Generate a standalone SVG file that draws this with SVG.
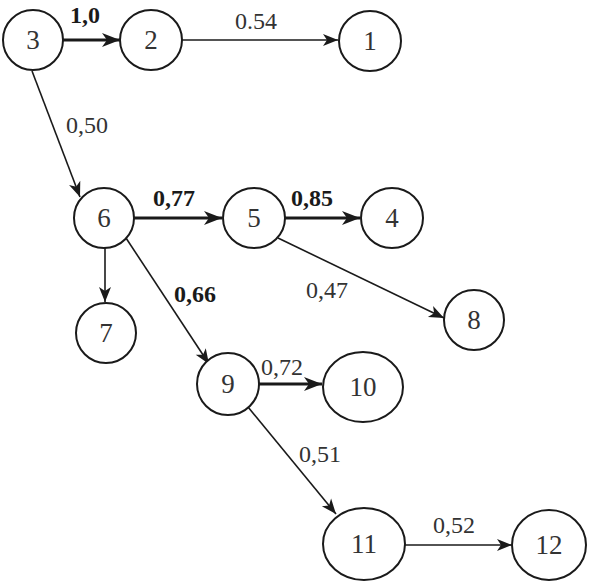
<svg xmlns="http://www.w3.org/2000/svg" width="591" height="582" viewBox="0 0 591 582">
<style>
.node ellipse{fill:#fff;stroke:#1a1a1a;stroke-width:2}
.node text{font-family:"Liberation Serif","Times New Roman",serif;font-size:27px;fill:#333;text-anchor:middle}
.e{stroke:#1a1a1a;fill:none;stroke-width:1.6}
.thick{stroke-width:3.2}
.lbl{font-family:"Liberation Serif","Times New Roman",serif;font-size:24px;fill:#333;text-anchor:middle}
.b{font-weight:bold;fill:#1a1a1a}
</style>
<defs>
<marker id="a" markerUnits="userSpaceOnUse" markerWidth="20" markerHeight="14" refX="17" refY="7" orient="auto">
<path d="M2,1 L17,7 L2,13 L6,7 Z" fill="#1a1a1a"/>
</marker>
<marker id="ab" markerUnits="userSpaceOnUse" markerWidth="22" markerHeight="16" refX="19" refY="8" orient="auto">
<path d="M1,1 L19,8 L1,15 L6,8 Z" fill="#1a1a1a"/>
</marker>
</defs>
<g id="connectors">
<line class="e thick" x1="63" y1="40" x2="120" y2="40" marker-end="url(#ab)"/>
<line class="e" x1="182" y1="40" x2="338" y2="40" marker-end="url(#a)"/>
<line class="e" x1="32" y1="71" x2="80" y2="197" marker-end="url(#a)"/>
<line class="e thick" x1="134" y1="218" x2="222" y2="218" marker-end="url(#ab)"/>
<line class="e thick" x1="285" y1="218" x2="360" y2="218" marker-end="url(#ab)"/>
<line class="e" x1="278" y1="238" x2="444" y2="318" marker-end="url(#a)"/>
<line class="e" x1="105" y1="248" x2="105" y2="302" marker-end="url(#a)"/>
<line class="e" x1="126" y1="238" x2="209" y2="364" marker-end="url(#a)"/>
<line class="e thick" x1="259" y1="384" x2="322" y2="384" marker-end="url(#ab)"/>
<line class="e" x1="248" y1="407" x2="336" y2="514" marker-end="url(#a)"/>
<line class="e" x1="405" y1="545" x2="512" y2="545" marker-end="url(#a)"/>
</g>
<g id="edge-labels">
<text class="lbl b" x="85" y="23">1,0</text>
<text class="lbl" x="256" y="29">0.54</text>
<text class="lbl" x="87" y="133">0,50</text>
<text class="lbl b" x="174" y="206">0,77</text>
<text class="lbl b" x="312" y="206">0,85</text>
<text class="lbl" x="327" y="298">0,47</text>
<text class="lbl b" x="195" y="302">0,66</text>
<text class="lbl" x="282" y="375">0,72</text>
<text class="lbl" x="320" y="462">0,51</text>
<text class="lbl" x="454" y="533">0,52</text>
</g>
<g id="n3" class="node"><ellipse cx="33" cy="40" rx="30" ry="30"/><text x="33" y="49">3</text></g>
<g id="n2" class="node"><ellipse cx="151" cy="40" rx="31" ry="30"/><text x="151" y="49">2</text></g>
<g id="n1" class="node"><ellipse cx="370" cy="41" rx="31" ry="30"/><text x="370" y="50">1</text></g>
<g id="n6" class="node"><ellipse cx="104" cy="218" rx="30" ry="30"/><text x="104" y="227">6</text></g>
<g id="n5" class="node"><ellipse cx="254" cy="218" rx="31" ry="30"/><text x="254" y="227">5</text></g>
<g id="n4" class="node"><ellipse cx="392" cy="218" rx="31" ry="30"/><text x="392" y="227">4</text></g>
<g id="n8" class="node"><ellipse cx="474" cy="320" rx="30" ry="30"/><text x="474" y="329">8</text></g>
<g id="n7" class="node"><ellipse cx="106" cy="333" rx="30" ry="30"/><text x="106" y="342">7</text></g>
<g id="n9" class="node"><ellipse cx="228" cy="384" rx="31" ry="31"/><text x="228" y="393">9</text></g>
<g id="n10" class="node"><ellipse cx="363" cy="387" rx="40" ry="35"/><text x="363" y="396">10</text></g>
<g id="n11" class="node"><ellipse cx="364" cy="544" rx="41" ry="36"/><text x="364" y="553">11</text></g>
<g id="n12" class="node"><ellipse cx="549" cy="545" rx="37" ry="35"/><text x="549" y="554">12</text></g>
</svg>
